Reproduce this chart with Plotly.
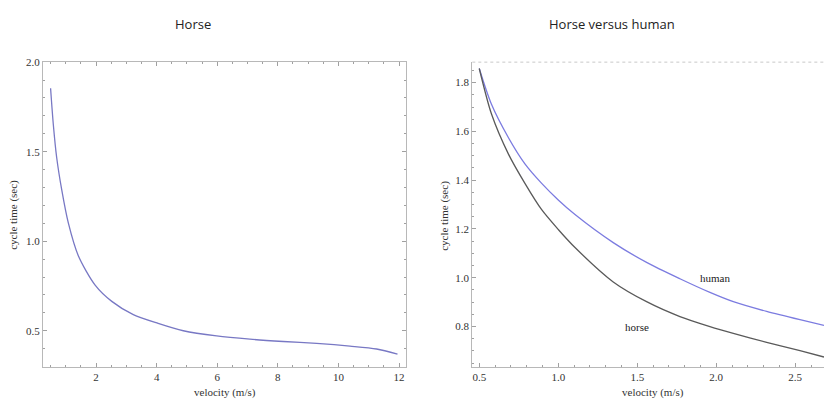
import plotly.graph_objects as go

# Left panel: horse cycle time vs velocity
horse_v = [0.5, 0.59, 0.70, 0.87, 1.085, 1.415, 1.97, 2.52, 3.23, 4.05, 4.88, 5.98, 7.08, 8.18, 9.28, 10.38, 11.26, 11.95]
horse_t = [1.854, 1.652, 1.469, 1.285, 1.102, 0.919, 0.755, 0.664, 0.59, 0.541, 0.50, 0.471, 0.453, 0.44, 0.429, 0.414, 0.398, 0.37]

# Right panel: horse vs human
human_v = [0.5, 0.578, 0.684, 0.789, 0.895, 1.0, 1.106, 1.348, 1.559, 1.77, 1.96, 2.108, 2.319, 2.53, 2.682]
human_t = [1.858, 1.71, 1.575, 1.467, 1.387, 1.319, 1.259, 1.144, 1.063, 0.996, 0.94, 0.902, 0.862, 0.828, 0.805]
horse2_v = [0.5, 0.578, 0.684, 0.789, 0.895, 1.0, 1.106, 1.348, 1.559, 1.77, 1.96, 2.108, 2.319, 2.53, 2.682]
horse2_t = [1.858, 1.67, 1.508, 1.387, 1.279, 1.198, 1.124, 0.983, 0.902, 0.841, 0.80, 0.772, 0.735, 0.701, 0.675]

serif = "Liberation Serif, Times New Roman, serif"
sans = "Open Sans, Liberation Sans, sans-serif"
frame = "#b8b8b8"
tickc = "#a0a0a0"
labc = "#333333"

fig = go.Figure()
fig.add_trace(go.Scatter(x=horse_v, y=horse_t, mode="lines",
                         line=dict(color="#7878c4", width=1.3, shape="spline", smoothing=0.8),
                         xaxis="x", yaxis="y", showlegend=False))
fig.add_trace(go.Scatter(x=human_v, y=human_t, mode="lines",
                         line=dict(color="#7c7ce0", width=1.3, shape="spline", smoothing=0.8),
                         xaxis="x2", yaxis="y2", showlegend=False))
fig.add_trace(go.Scatter(x=horse2_v, y=horse2_t, mode="lines",
                         line=dict(color="#5a5a5a", width=1.3, shape="spline", smoothing=0.8),
                         xaxis="x2", yaxis="y2", showlegend=False))

ax_common = dict(showgrid=False, zeroline=False, showline=True, linecolor=frame, linewidth=1,
                 ticks="inside", ticklen=4, tickcolor=tickc, tickwidth=1,
                 tickfont=dict(family=serif, size=11, color=labc))

fig.update_layout(
    width=824, height=403, margin=dict(l=0, r=0, t=0, b=0),
    paper_bgcolor="white", plot_bgcolor="white",
    xaxis=dict(domain=[0.0522, 0.4927], range=[0.25, 12.23], tickvals=[2, 4, 6, 8, 10, 12],
               mirror="ticks", minor=dict(dtick=0.5, tick0=0, ticks="inside", ticklen=2, tickcolor=tickc),
               anchor="y", **ax_common),
    yaxis=dict(domain=[0.0918, 0.8586], range=[0.3, 2.0], tickvals=[0.5, 1.0, 1.5, 2.0], tickformat=".1f",
               mirror="ticks", minor=dict(dtick=0.1, tick0=0, ticks="inside", ticklen=2, tickcolor=tickc),
               anchor="x", **ax_common),
    xaxis2=dict(domain=[0.5732, 1.0], range=[0.456, 2.682], tickvals=[0.5, 1.0, 1.5, 2.0, 2.5], tickformat=".1f",
                minor=dict(dtick=0.1, tick0=0, ticks="inside", ticklen=2, tickcolor=tickc),
                anchor="y2", **ax_common),
    yaxis2=dict(domain=[0.0918, 0.8586], range=[0.636, 1.884], tickvals=[0.8, 1.0, 1.2, 1.4, 1.6, 1.8], tickformat=".1f",
                minor=dict(dtick=0.05, tick0=0, ticks="inside", ticklen=2, tickcolor=tickc),
                anchor="x2", **ax_common),
)

# top dotted frame of right panel
fig.add_shape(type="line", xref="paper", yref="paper", x0=0.5732, x1=1.0, y0=0.8586, y1=0.8586,
              line=dict(color="#c8c8c8", width=1, dash="dot"))

ann = []
ann.append(dict(text="Horse", x=193/824, y=(403-18)/403, font=dict(family=sans, size=13, color="#222")))
ann.append(dict(text="Horse versus human", x=612/824, y=(403-18)/403, font=dict(family=sans, size=13, color="#222")))
ann.append(dict(text="velocity (m/s)", x=225/824, y=(403-392)/403, font=dict(family=serif, size=11, color=labc)))
ann.append(dict(text="velocity (m/s)", x=653/824, y=(403-392)/403, font=dict(family=serif, size=11, color=labc)))
ann.append(dict(text="cycle time (sec)", x=14/824, y=(403-212)/403, textangle=-90, font=dict(family=serif, size=11, color=labc)))
ann.append(dict(text="cycle time (sec)", x=445/824, y=(403-213)/403, textangle=-90, font=dict(family=serif, size=11, color=labc)))
for a in ann:
    a.update(xref="paper", yref="paper", showarrow=False, xanchor="center", yanchor="middle")
fig.update_layout(annotations=ann)
fig.add_annotation(text="human", x=1.99, y=1.0, xref="x2", yref="y2", showarrow=False,
                   font=dict(family=serif, size=11, color="#222"))
fig.add_annotation(text="horse", x=1.5, y=0.797, xref="x2", yref="y2", showarrow=False,
                   font=dict(family=serif, size=11, color="#222"))

post = ("document.body.style.margin='0';document.body.style.overflow='hidden';"
        "var d=document.getElementById('{plot_id}');d.style.position='absolute';d.style.left='0';d.style.top='0';")
fig.write_html("out.html", post_script=post, config={"displayModeBar": False})
